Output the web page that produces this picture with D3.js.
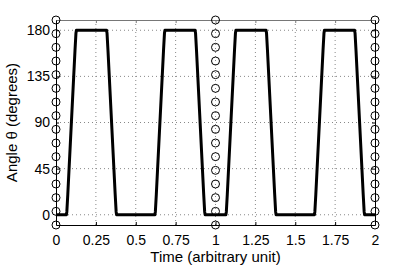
<!DOCTYPE html>
<html>
<head>
<meta charset="utf-8">
<script src="https://cdn.jsdelivr.net/npm/d3@7"></script>
<style>
  body { margin: 0; background: #fff; }
  svg { display: block; font-family: "Liberation Sans", Arial, sans-serif; }
</style>
</head>
<body>
<svg id="chart" width="415" height="266"></svg>
<script>
// curve samples: time (arbitrary unit) vs angle (degrees)
const timeVals = [
  0, 0.065, 0.068, 0.074, 0.119, 0.125, 0.128,
  0.317, 0.320, 0.326, 0.371, 0.377, 0.380,
  0.620, 0.623, 0.629, 0.674, 0.680, 0.683,
  0.872, 0.875, 0.881, 0.926, 0.932, 0.935,
  1.065, 1.068, 1.074, 1.119, 1.125, 1.128,
  1.317, 1.320, 1.326, 1.371, 1.377, 1.380,
  1.620, 1.623, 1.629, 1.674, 1.680, 1.683,
  1.872, 1.875, 1.881, 1.926, 1.932, 1.935, 2
];
const angleVals = [
  0, 0, 3, 20, 160, 177, 180,
  180, 177, 160, 20, 3, 0,
  0, 3, 20, 160, 177, 180,
  180, 177, 160, 20, 3, 0,
  0, 3, 20, 160, 177, 180,
  180, 177, 160, 20, 3, 0,
  0, 3, 20, 160, 177, 180,
  180, 177, 160, 20, 3, 0, 0
];

// circle markers drawn on the vertical lines at these times
const markerTimes = [0, 1, 2];
const markerAngles = [-10, 3.33, 16.67, 30, 43.33, 56.67, 70, 83.33, 96.67,
                      110, 123.33, 136.67, 150, 163.33, 176.67, 190];

const xTicks = [0, 0.25, 0.5, 0.75, 1, 1.25, 1.5, 1.75, 2];
const xTickLabels = ["0", "0.25", "0.5", "0.75", "1", "1.25", "1.5", "1.75", "2"];
const yTicks = [0, 45, 90, 135, 180];

// layout
const svg = d3.select("svg#chart");
const mLeft = 56, mRight = 375, mTop = 20, mBottom = 225;

const x = d3.scaleLinear().domain([0, 2]).range([mLeft, mRight]);
const y = d3.scaleLinear().domain([-10, 190]).range([mBottom, mTop]);

// grid (dotted)
const grid = svg.append("g").attr("class", "grid");
grid.selectAll("line.gx")
  .data(xTicks.filter(d => d > 0 && d < 2))
  .join("line")
  .attr("x1", d => x(d)).attr("x2", d => x(d))
  .attr("y1", mTop).attr("y2", mBottom)
  .attr("stroke", "#888").attr("stroke-width", 1)
  .attr("stroke-dasharray", "1,3");
grid.selectAll("line.gy")
  .data(yTicks)
  .join("line")
  .attr("x1", mLeft).attr("x2", mRight)
  .attr("y1", d => y(d)).attr("y2", d => y(d))
  .attr("stroke", "#888").attr("stroke-width", 1)
  .attr("stroke-dasharray", "1,3");

// axes
const xAxis = d3.axisBottom(x).tickValues(xTicks)
  .tickFormat((d, i) => xTickLabels[i]).tickSizeInner(-3).tickSizeOuter(0).tickPadding(10);
const xAxisTop = d3.axisTop(x).tickValues(xTicks).tickFormat("").tickSizeInner(-3).tickSizeOuter(0);
const yAxis = d3.axisLeft(y).tickValues(yTicks).tickSizeInner(-3).tickSizeOuter(0).tickPadding(6);
const yAxisRight = d3.axisRight(y).tickValues(yTicks).tickFormat("").tickSizeInner(-3).tickSizeOuter(0);

const gx = svg.append("g").attr("transform", `translate(0,${mBottom})`).call(xAxis);
const gxt = svg.append("g").attr("transform", `translate(0,${mTop})`).call(xAxisTop);
const gy = svg.append("g").attr("transform", `translate(${mLeft},0)`).call(yAxis);
const gyr = svg.append("g").attr("transform", `translate(${mRight},0)`).call(yAxisRight);

[gx, gxt, gy, gyr].forEach(g => {
  g.selectAll("text").attr("font-size", 14).attr("fill", "#000")
    .attr("font-family", "Liberation Sans, Arial, sans-serif");
  g.selectAll("line").attr("stroke", "#000");
  g.select(".domain").attr("stroke", "#000");
});
gxt.select(".domain").attr("stroke", "#777");
gxt.selectAll("line").attr("stroke", "#777");

// curve
const pts = timeVals.map((t, i) => [t, angleVals[i]]);
const line = d3.line().x(d => x(d[0])).y(d => y(d[1]));
svg.append("path")
  .datum(pts)
  .attr("d", line)
  .attr("fill", "none")
  .attr("stroke", "#000")
  .attr("stroke-width", 3)
  .attr("stroke-linejoin", "round");

// circle markers
const markers = [];
markerTimes.forEach(t => markerAngles.forEach(a => markers.push([t, a])));
svg.append("g").selectAll("circle")
  .data(markers)
  .join("circle")
  .attr("cx", d => x(d[0]))
  .attr("cy", d => y(d[1]))
  .attr("r", 4)
  .attr("fill", "none")
  .attr("stroke", "#000")
  .attr("stroke-width", 1);

// titles
svg.append("text")
  .attr("x", (mLeft + mRight) / 2).attr("y", 262)
  .attr("text-anchor", "middle").attr("font-size", 15)
  .text("Time (arbitrary unit)");
svg.append("text")
  .attr("transform", `translate(17,${(mTop + mBottom) / 2}) rotate(-90)`)
  .attr("text-anchor", "middle").attr("font-size", 15)
  .text("Angle θ (degrees)");
</script>
</body>
</html>
